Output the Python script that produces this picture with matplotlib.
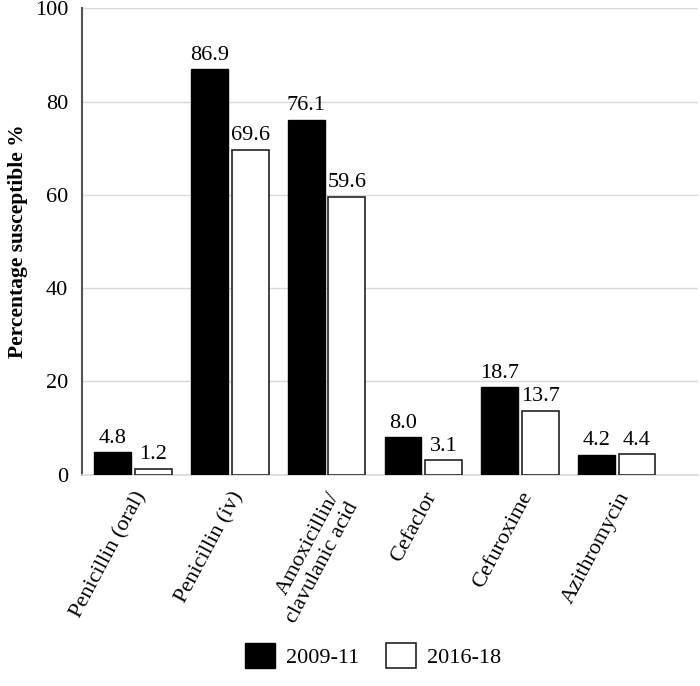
import numpy as np
import matplotlib
matplotlib.use('Agg')
from matplotlib import pyplot as plt

plt.rcParams['font.family'] = ['Liberation Serif', 'DejaVu Serif']

drugs = ['Penicillin (oral)', 'Penicillin (iv)', 'Amoxicillin/\nclavulanic acid',
         'Cefaclor', 'Cefuroxime', 'Azithromycin']
p2009 = [4.8, 86.9, 76.1, 8.0, 18.7, 4.2]
p2016 = [1.2, 69.6, 59.6, 3.1, 13.7, 4.4]

fig = plt.figure(figsize=(7, 6.86), dpi=100)
ax = fig.add_axes([0.117, 0.308, 0.88, 0.68])

x = np.arange(len(drugs))
w = 0.38
b1 = ax.bar(x - 0.21, p2009, w, color='black', edgecolor='black', linewidth=1, label='2009-11', zorder=3)
b2 = ax.bar(x + 0.21, p2016, w, color='white', edgecolor='#222222', linewidth=1.2, label='2016-18', zorder=3)

for bars, vals in [(b1, p2009), (b2, p2016)]:
    for r, v in zip(bars, vals):
        ax.text(r.get_x() + r.get_width() / 2, v + 1.0, '{:.1f}'.format(v),
                ha='center', va='bottom', fontsize=16)

ax.set_ylim(0, 100)
ax.set_xlim(-0.53, 5.84)
ax.set_yticks([0, 20, 40, 60, 80, 100])
ax.yaxis.grid(True, color='#d9d9d9', linewidth=1, zorder=0)
ax.set_axisbelow(True)
ax.tick_params(axis='y', length=0, labelsize=16, pad=10)
ax.set_xticks(x)
ax.set_xticklabels(drugs, rotation=62, ha='right', rotation_mode='anchor', fontsize=16)
ax.tick_params(axis='x', length=0, pad=10)

for s in ['top', 'right']:
    ax.spines[s].set_visible(False)
ax.spines['left'].set_color('#555555')
ax.spines['left'].set_linewidth(1.5)
ax.spines['bottom'].set_color('#d9d9d9')
ax.spines['bottom'].set_linewidth(1.2)

ax.set_ylabel('Percentage susceptible %', fontsize=15.5, fontweight='bold', labelpad=5)

fig.legend(handles=[b1, b2], loc='center', bbox_to_anchor=(0.533, 0.045), ncol=2,
           frameon=False, fontsize=16, handlelength=1.35, handleheight=1.35,
           handletextpad=0.5, columnspacing=1.2)

fig.savefig('out.png', dpi=100)
